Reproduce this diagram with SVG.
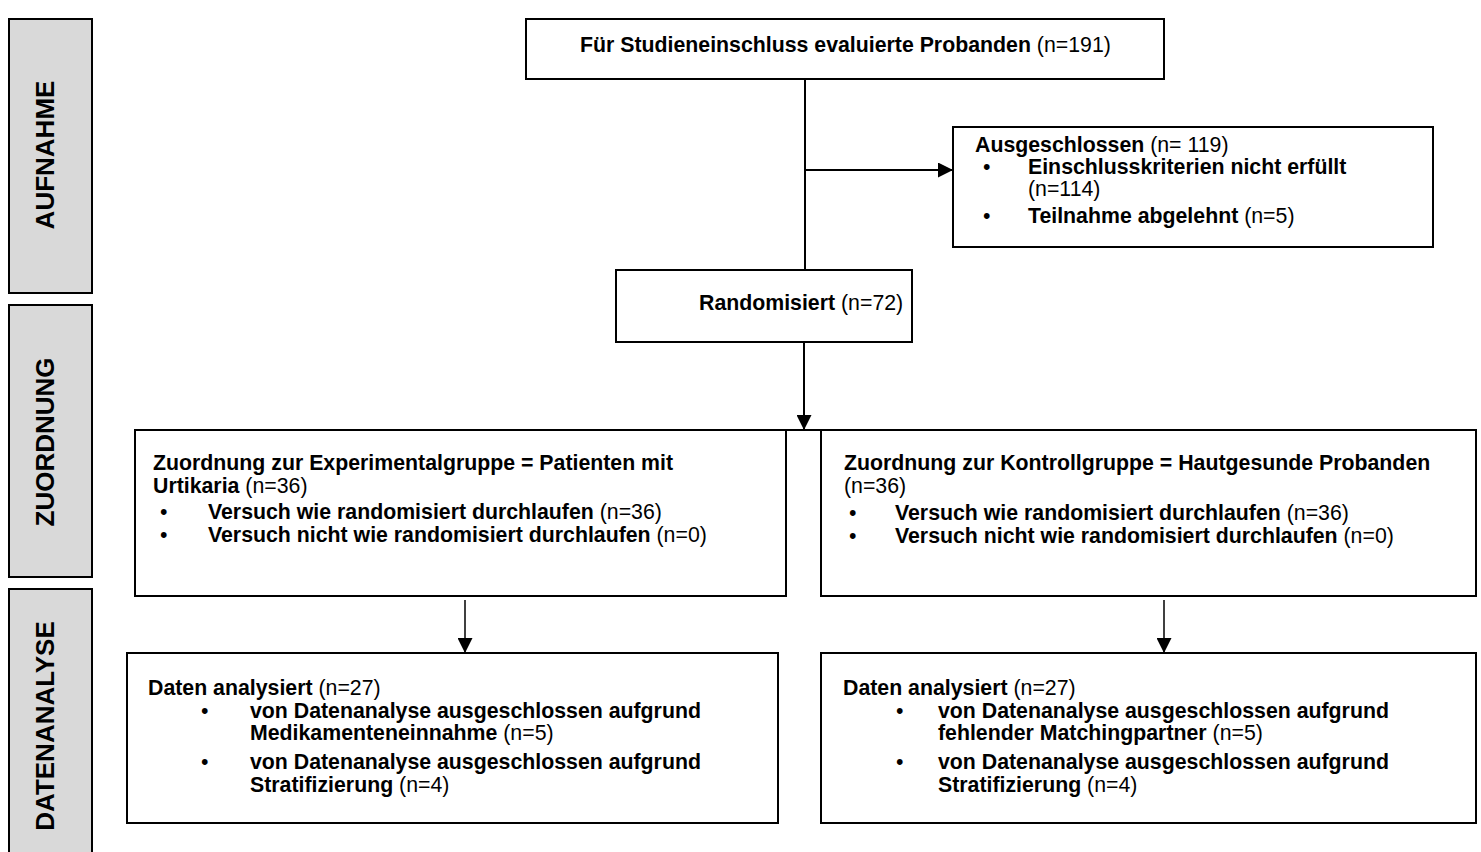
<svg xmlns="http://www.w3.org/2000/svg" width="1481" height="852" viewBox="0 0 1481 852">
<style>
text{font-family:"Liberation Sans",Arial,sans-serif;font-size:21.3px;fill:#000}
.b{font-weight:bold}
.side rect{fill:#d9d9d9;stroke:#000;stroke-width:2}
.side text{font-size:26px;font-weight:bold}
.box{fill:#fff;stroke:#000;stroke-width:2}
.con line{stroke:#000;stroke-width:2}
</style>
<defs>
<marker id="ah" markerWidth="15" markerHeight="15" refX="15" refY="7.5" orient="auto" markerUnits="userSpaceOnUse">
<path d="M0,0 L15,7.5 L0,15 Z" fill="#000"/>
</marker>
</defs>
<rect width="1481" height="852" fill="#fff"/>
<g class="side" id="phase-aufnahme">
<rect x="9" y="19" width="83" height="274"/>
<text transform="translate(54,155) rotate(-90)" text-anchor="middle">AUFNAHME</text>
</g>
<g class="side" id="phase-zuordnung">
<rect x="9" y="305" width="83" height="272"/>
<text transform="translate(54,442) rotate(-90)" text-anchor="middle">ZUORDNUNG</text>
</g>
<g class="side" id="phase-datenanalyse">
<rect x="9" y="589" width="83" height="280"/>
<text transform="translate(54,726) rotate(-90)" text-anchor="middle">DATENANALYSE</text>
</g>
<g class="con" id="connectors">
<line x1="805" y1="79" x2="805" y2="270"/>
<line x1="805" y1="170" x2="953" y2="170" marker-end="url(#ah)"/>
<line x1="804" y1="342" x2="804" y2="430" marker-end="url(#ah)"/>
<line x1="786" y1="430" x2="821" y2="430"/>
<line x1="465" y1="600" x2="465" y2="653" marker-end="url(#ah)" style="stroke-width:1.5"/>
<line x1="1164" y1="600" x2="1164" y2="653" marker-end="url(#ah)" style="stroke-width:1.5"/>
</g>
<g id="evaluated">
<rect class="box" x="526" y="19" width="638" height="60"/>
<text x="580" y="52"><tspan class="b">Für Studieneinschluss evaluierte Probanden</tspan> (n=191)</text>
</g>
<g id="excluded">
<rect class="box" x="953" y="127" width="480" height="120"/>
<text x="975" y="152"><tspan class="b">Ausgeschlossen</tspan> (n= 119)</text>
<text x="983" y="174">•</text>
<text x="1028" y="174" class="b">Einschlusskriterien nicht erfüllt</text>
<text x="1028" y="196">(n=114)</text>
<text x="983" y="223">•</text>
<text x="1028" y="223"><tspan class="b">Teilnahme abgelehnt</tspan> (n=5)</text>
</g>
<g id="randomized">
<rect class="box" x="616" y="270" width="296" height="72"/>
<text x="699" y="310"><tspan class="b">Randomisiert</tspan> (n=72)</text>
</g>
<g id="experimental">
<rect class="box" x="135" y="430" width="651" height="166"/>
<text x="153" y="470" class="b">Zuordnung zur Experimentalgruppe = Patienten mit</text>
<text x="153" y="493"><tspan class="b">Urtikaria</tspan> (n=36)</text>
<text x="160" y="519">•</text>
<text x="208" y="519"><tspan class="b">Versuch wie randomisiert durchlaufen</tspan> (n=36)</text>
<text x="160" y="542">•</text>
<text x="208" y="542"><tspan class="b">Versuch nicht wie randomisiert durchlaufen</tspan> (n=0)</text>
</g>
<g id="control">
<rect class="box" x="821" y="430" width="655" height="166"/>
<text x="844" y="470" class="b">Zuordnung zur Kontrollgruppe = Hautgesunde Probanden</text>
<text x="844" y="493">(n=36)</text>
<text x="849" y="520">•</text>
<text x="895" y="520"><tspan class="b">Versuch wie randomisiert durchlaufen</tspan> (n=36)</text>
<text x="849" y="543">•</text>
<text x="895" y="543"><tspan class="b">Versuch nicht wie randomisiert durchlaufen</tspan> (n=0)</text>
</g>
<g id="analysis-experimental">
<rect class="box" x="127" y="653" width="651" height="170"/>
<text x="148" y="695"><tspan class="b">Daten analysiert</tspan> (n=27)</text>
<text x="201" y="718">•</text>
<text x="250" y="718" class="b">von Datenanalyse ausgeschlossen aufgrund</text>
<text x="250" y="740"><tspan class="b">Medikamenteneinnahme</tspan> (n=5)</text>
<text x="201" y="769">•</text>
<text x="250" y="769" class="b">von Datenanalyse ausgeschlossen aufgrund</text>
<text x="250" y="792"><tspan class="b">Stratifizierung</tspan> (n=4)</text>
</g>
<g id="analysis-control">
<rect class="box" x="821" y="653" width="655" height="170"/>
<text x="843" y="695"><tspan class="b">Daten analysiert</tspan> (n=27)</text>
<text x="896" y="718">•</text>
<text x="938" y="718" class="b">von Datenanalyse ausgeschlossen aufgrund</text>
<text x="938" y="740"><tspan class="b">fehlender Matchingpartner</tspan> (n=5)</text>
<text x="896" y="769">•</text>
<text x="938" y="769" class="b">von Datenanalyse ausgeschlossen aufgrund</text>
<text x="938" y="792"><tspan class="b">Stratifizierung</tspan> (n=4)</text>
</g>
</svg>
